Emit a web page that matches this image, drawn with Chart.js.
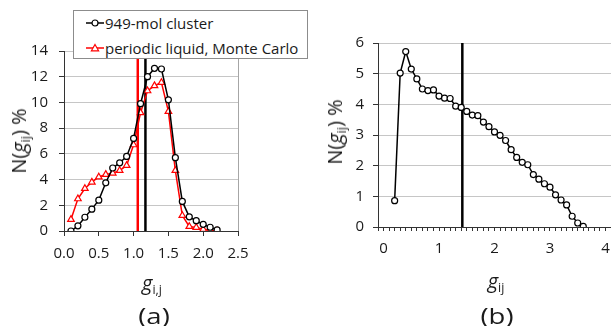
<!DOCTYPE html>
<html>
<head>
<meta charset="utf-8">
<script src="https://cdn.jsdelivr.net/npm/chart.js@4.4.1/dist/chart.umd.min.js"></script>
<style>
  html, body { margin: 0; padding: 0; background: #fff; overflow: hidden; width: 611px; height: 326px; }
  body { position: relative; font-family: "Open Sans", sans-serif; color: #1a1a1a; }
  .wrap { position: absolute; top: 0; height: 326px; }
  #wrapA { left: 0; width: 305px; }
  #wrapB { left: 305px; width: 335px; }
  .ttl { position: absolute; font-size: 20px; white-space: nowrap; transform: translate(-50%, -50%); line-height: 1; }
  .rot { transform: translate(-50%, -50%) rotate(-90deg); }
  .ttl sub { font-size: 0.62em; vertical-align: -0.3em; line-height: 0; }
  .tag { position: absolute; font-size: 22px; transform: translate(-50%, -50%) scaleX(1.25); line-height: 1; }
  #legendA { position: absolute; left: 73px; top: 10px; width: 235px; height: 49px; box-sizing: border-box;
             border: 1px solid #8c8c8c; background: #fff; font-size: 15px; }
  .legRow { position: absolute; left: 12px; height: 20px; display: flex; align-items: center; white-space: nowrap; }
  .legRow svg { margin-right: 1px; }
</style>
</head>
<body>
<div class="wrap" id="wrapA"><canvas id="chartA" width="305" height="326"></canvas></div>
<div class="wrap" id="wrapB"><canvas id="chartB" width="335" height="326"></canvas></div>
<div id="legendA"></div>

<div class="ttl rot" style="left:19px; top:141px;">N(<i>g</i><sub>ij</sub>) %</div>
<div class="ttl" style="left:152px; top:283px;"><i>g</i><sub>i,j</sub></div>
<div class="tag" style="left:154px; top:315px;">(a)</div>

<div class="ttl rot" style="left:335px; top:132px;">N(<i>g</i><sub>ij</sub>) %</div>
<div class="ttl" style="left:496px; top:281px;"><i>g</i><sub>ij</sub></div>
<div class="tag" style="left:497px; top:315px;">(b)</div>

<script>
// panel (a): distribution of g_ij
const gA = [0.1, 0.2, 0.3, 0.4, 0.5, 0.6, 0.7, 0.8, 0.9, 1.0, 1.1,
            1.2, 1.3, 1.4, 1.5, 1.6, 1.7, 1.8, 1.9, 2.0, 2.1, 2.2];
const clusterN = [0.0, 0.4, 1.07, 1.7, 2.4, 3.75, 4.9, 5.3, 5.8, 7.2, 9.9,
                  12.0, 12.65, 12.6, 10.2, 5.7, 2.3, 1.1, 0.8, 0.52, 0.29, 0.08];
const mcN = [0.9, 2.5, 3.3, 3.8, 4.2, 4.4, 4.5, 4.7, 5.1, 6.7, 9.2,
             10.9, 11.3, 11.55, 9.3, 4.7, 1.2, 0.35, 0.28, 0.13, 0.05, 0.0];
const clusterMarkA = 1.17;
const mcMarkA = 1.06;
const labelsA = ["949-mol cluster", "periodic liquid, Monte Carlo"];

// panel (b)
const gB = [0.2, 0.3, 0.4, 0.5, 0.6, 0.7, 0.8, 0.9, 1.0, 1.1, 1.2, 1.3,
            1.4, 1.5, 1.6, 1.7, 1.8, 1.9, 2.0, 2.1, 2.2, 2.3, 2.4, 2.5,
            2.6, 2.7, 2.8, 2.9, 3.0, 3.1, 3.2, 3.3, 3.4, 3.5, 3.6];
const nB = [0.86, 5.02, 5.72, 5.15, 4.83, 4.50, 4.45, 4.47, 4.27, 4.20, 4.19, 3.94,
            3.90, 3.77, 3.65, 3.63, 3.42, 3.27, 3.10, 2.99, 2.82, 2.52, 2.27, 2.11,
            2.03, 1.71, 1.56, 1.41, 1.30, 1.05, 0.88, 0.72, 0.35, 0.13, 0.02];
const markB = 1.42;

const tickFont = { family: "Open Sans", size: 15 };
const tickColor = "#1a1a1a";
const axisColor = "#333";
const gridColor = "#c6c6c6";
const isInt = v => Math.abs(v - Math.round(v)) < 1e-6;

function pts(xs, ys) {
    return xs.map((x, i) => ({ x: x, y: ys[i] }));
}
function vline(x, yMax, color) {
    return {
        data: [{ x: x, y: 0 }, { x: x, y: yMax }],
        borderColor: color, borderWidth: 2.5, pointRadius: 0, showLine: true
    };
}

const datasetsA = [
    {
        label: labelsA[0], data: pts(gA, clusterN), showLine: true,
        borderColor: "#000", borderWidth: 1.5,
        pointStyle: "circle", pointRadius: 3, pointBorderWidth: 1.2,
        pointBackgroundColor: "#fff", pointBorderColor: "#000"
    },
    {
        label: labelsA[1], data: pts(gA, mcN), showLine: true,
        borderColor: "#ff0000", borderWidth: 1.5,
        pointStyle: "triangle", pointRadius: 3.8, pointBorderWidth: 1.2,
        pointBackgroundColor: "#fff", pointBorderColor: "#ff0000"
    },
    vline(clusterMarkA, 14, "#000"),
    vline(mcMarkA, 14, "#ff0000")
];

new Chart(document.getElementById("chartA"), {
    type: "scatter",
    data: { datasets: datasetsA },
    options: {
        responsive: false,
        animation: false,
        events: [],
        layout: { padding: { top: 51, right: 67, bottom: 0, left: 0 } },
        plugins: { legend: { display: false }, tooltip: { enabled: false } },
        scales: {
            x: {
                type: "linear", min: 0, max: 2.5,
                afterFit: s => { s.height = 95; },
                ticks: { stepSize: 0.5, color: tickColor, font: tickFont, padding: 9,
                         maxRotation: 0, callback: v => v.toFixed(1) },
                grid: {
                    color: ctx => (ctx.tick && ctx.tick.value === 2.5) ? "#a6a6a6" : "transparent",
                    tickColor: axisColor, tickLength: 5
                },
                border: { color: axisColor, width: 1 }
            },
            y: {
                min: 0, max: 14,
                afterFit: s => { s.width = 64; },
                ticks: { stepSize: 2, color: tickColor, font: tickFont, padding: 11 },
                grid: { color: gridColor, tickColor: axisColor, tickLength: 5 },
                border: { color: axisColor, width: 1 }
            }
        }
    }
});

// legend box for panel (a), built from the two data series
const legendA = document.getElementById("legendA");
datasetsA.slice(0, 2).forEach((ds, i) => {
    const c = ds.borderColor;
    const mark = ds.pointStyle === "triangle"
        ? `<polygon points="9,2.5 12.6,8.8 5.4,8.8" fill="#fff" stroke="${c}" stroke-width="1.2"/>`
        : `<circle cx="9" cy="6" r="3" fill="#fff" stroke="${c}" stroke-width="1.2"/>`;
    const row = document.createElement("div");
    row.className = "legRow";
    row.style.top = (i === 0 ? 2 : 27) + "px";
    row.innerHTML = `<svg width="18" height="12"><line x1="0" y1="6" x2="18" y2="6" stroke="${c}" stroke-width="1.5"/>${mark}</svg><span>${ds.label}</span>`;
    legendA.appendChild(row);
});

new Chart(document.getElementById("chartB"), {
    type: "scatter",
    data: {
        datasets: [
            {
                data: pts(gB, nB), showLine: true,
                borderColor: "#000", borderWidth: 1.5,
                pointStyle: "circle", pointRadius: 3, pointBorderWidth: 1.2,
                pointBackgroundColor: "#fff", pointBorderColor: "#000"
            },
            vline(markB, 6, "#000")
        ]
    },
    options: {
        responsive: false,
        animation: false,
        events: [],
        layout: { padding: { top: 43, right: 29, bottom: 0, left: 0 } },
        plugins: { legend: { display: false }, tooltip: { enabled: false } },
        scales: {
            x: {
                type: "linear", min: -0.1, max: 4.1,
                afterFit: s => { s.height = 99; },
                ticks: { stepSize: 0.1, autoSkip: false, maxRotation: 0, minRotation: 0,
                         color: tickColor, font: tickFont, padding: 9,
                         callback: v => isInt(v) ? String(Math.round(v)) : "" },
                grid: { drawOnChartArea: false, tickColor: axisColor, tickLength: 4 },
                border: { color: axisColor, width: 1 }
            },
            y: {
                min: 0, max: 6,
                afterFit: s => { s.width = 73; },
                ticks: { stepSize: 0.5, color: tickColor, font: tickFont, padding: 9,
                         callback: v => isInt(v) ? String(Math.round(v)) : "" },
                grid: {
                    color: ctx => (ctx.tick && isInt(ctx.tick.value)) ? gridColor : "transparent",
                    tickColor: axisColor, tickLength: 5
                },
                border: { color: axisColor, width: 1 }
            }
        }
    }
});
</script>
</body>
</html>
